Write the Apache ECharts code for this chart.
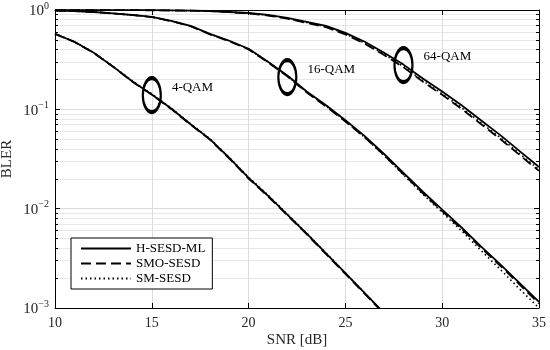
<!DOCTYPE html>
<html><head><meta charset="utf-8">
<script src="https://cdn.jsdelivr.net/npm/echarts@6/dist/echarts.min.js"></script>
<style>html,body{margin:0;padding:0;background:#fff}#c{width:550px;height:350px}</style>
</head><body><div id="c"></div>
<script>
// ---- data ----
const snr4 = [10,11,12,13,14,15,16,17,18,19,20,21,22,23,24,25,26,27];
const snrAll = [10,11,12,13,14,15,16,17,18,19,20,21,22,23,24,25,26,27,28,29,30,31,32,33,34,35];

const qam4_H   = [0.575,0.479,0.372,0.269,0.191,0.141,0.102,0.0708,0.0501,0.0324,0.0204,0.0135,0.00871,0.00562,0.00355,0.00224,0.00141,0.00089];
const qam4_SMO = [0.575,0.477,0.370,0.268,0.190,0.140,0.101,0.0702,0.0497,0.0320,0.0201,0.0133,0.00858,0.00553,0.00349,0.00220,0.00139,0.00087];
const qam4_SM  = [0.578,0.481,0.374,0.271,0.193,0.143,0.103,0.0715,0.0507,0.0328,0.0207,0.0137,0.00880,0.00567,0.00357,0.00225,0.00141,0.00088];

const qam16_H   = [0.989,0.977,0.955,0.923,0.891,0.851,0.776,0.692,0.575,0.490,0.407,0.302,0.219,0.151,0.110,0.0776,0.0537,0.0355,0.0229,0.0148,0.00977,0.00646,0.00417,0.00275,0.00178,0.00115];
const qam16_SMO = [0.989,0.977,0.955,0.922,0.889,0.848,0.772,0.687,0.569,0.484,0.401,0.297,0.215,0.148,0.107,0.0755,0.0522,0.0345,0.0222,0.0143,0.00945,0.00625,0.00404,0.00266,0.00172,0.00111];
const qam16_SM  = [0.989,0.977,0.955,0.923,0.890,0.850,0.775,0.690,0.573,0.488,0.405,0.300,0.217,0.149,0.108,0.0760,0.0522,0.0343,0.0219,0.0140,0.00915,0.00598,0.00380,0.00245,0.00155,0.00100];

const qam64_H   = [0.999,0.999,0.998,0.997,0.996,0.995,0.991,0.986,0.977,0.955,0.933,0.891,0.832,0.759,0.692,0.589,0.479,0.372,0.282,0.204,0.151,0.110,0.0776,0.0550,0.0380,0.0263];
const qam64_SMO = [0.999,0.999,0.998,0.997,0.996,0.994,0.990,0.984,0.974,0.950,0.925,0.880,0.818,0.742,0.672,0.568,0.458,0.352,0.265,0.190,0.140,0.101,0.0712,0.0503,0.0347,0.0240];
const qam64_SM  = [0.999,0.999,0.998,0.997,0.996,0.994,0.990,0.985,0.975,0.952,0.928,0.884,0.823,0.748,0.679,0.575,0.465,0.358,0.270,0.194,0.143,0.104,0.0733,0.0518,0.0357,0.0247];

const methodNames = ['H-SESD-ML','SMO-SESD','SM-SESD'];
const groupLabels = ['4-QAM','16-QAM','64-QAM'];
const groupMarkSnr = [15, 22, 28];
const groupMarkBler = [0.139, 0.211, 0.279];

const yMinor = [];
[0.001,0.01,0.1].forEach(d => { for (let k = 2; k <= 9; k++) yMinor.push(+(d*k).toPrecision(3)); });

// ---- styles ----
const FONT = 'Liberation Serif';
const lineTypes = ['solid', [10,5], [1.5,3]];
const lineWidths = [1.8, 1.8, 1.6];

function mk(name, xs, ys, idx) {
  return {
    type: 'line', name: name, xAxisIndex: 0, yAxisIndex: 0,
    data: xs.map((x, i) => [x, ys[i]]),
    showSymbol: false, symbol: 'none', smooth: false, clip: true,
    lineStyle: { color: '#000', width: lineWidths[idx], type: lineTypes[idx] },
    itemStyle: { color: '#000' },
    z: 5 - idx
  };
}

const series = [
  mk(methodNames[0], snr4, qam4_H, 0),
  mk(methodNames[1], snr4, qam4_SMO, 1),
  mk(methodNames[2], snr4, qam4_SM, 2),
  mk(methodNames[0], snrAll, qam16_H, 0),
  mk(methodNames[1], snrAll, qam16_SMO, 1),
  mk(methodNames[2], snrAll, qam16_SM, 2),
  mk(methodNames[0], snrAll, qam64_H, 0),
  mk(methodNames[1], snrAll, qam64_SMO, 1),
  mk(methodNames[2], snrAll, qam64_SM, 2),
  {
    type: 'scatter', name: 'marks', xAxisIndex: 0, yAxisIndex: 0,
    data: groupMarkSnr.map((x, i) => ({ value: [x, groupMarkBler[i]], label: { formatter: groupLabels[i] } })),
    symbol: 'circle', symbolSize: [18, 34],
    itemStyle: { color: 'rgba(0,0,0,0)', borderColor: '#000', borderWidth: 3, opacity: 1 },
    label: { show: true, position: 'right', distance: 10, offset: [0, -8], color: '#000', fontFamily: FONT, fontSize: 13 },
    emphasis: { disabled: true },
    z: 10, silent: true
  }
];

function expLabel(v) {
  const e = Math.round(Math.log10(v));
  return '{b|10}{s|' + (e < 0 ? '\u2212' + (-e) : String(e)) + '}';
}

const yRich = {
  b: { fontFamily: FONT, fontSize: 15, color: '#262626', lineHeight: 18, verticalAlign: 'bottom' },
  s: { fontFamily: FONT, fontSize: 10, color: '#262626', verticalAlign: 'top', lineHeight: 10 }
};

const option = {
  animation: false,
  backgroundColor: '#fff',
  grid: { left: 55, right: 11, top: 10, bottom: 42, containLabel: false, outerBoundsMode: 'none' },
  legend: {
    data: methodNames, orient: 'vertical', left: 71, top: 238,
    itemWidth: 50, itemHeight: 14, itemGap: 2, padding: [4, 7, 4, 9],
    backgroundColor: '#fff', borderColor: '#000', borderWidth: 1, borderRadius: 0,
    itemStyle: { opacity: 0 },
    textStyle: { fontFamily: FONT, fontSize: 13, color: '#000' },
    selectedMode: false, z: 20
  },
  xAxis: [{
    type: 'value', min: 10, max: 35, interval: 5, position: 'bottom',
    axisLine: { show: true, onZero: false, lineStyle: { color: '#000', width: 1 } },
    axisTick: { show: true, inside: true, length: 5, lineStyle: { color: '#000' } },
    splitLine: { show: true, lineStyle: { color: '#dcdcdc', width: 1 } },
    axisLabel: { margin: 8, fontFamily: FONT, fontSize: 14, color: '#262626' },
    name: 'SNR [dB]', nameLocation: 'middle', nameGap: 25, nameMoveOverlap: false,
    nameTextStyle: { fontFamily: FONT, fontSize: 15, color: '#262626' }
  }, {
    type: 'value', min: 10, max: 35, interval: 5, position: 'top',
    axisLine: { show: true, onZero: false, lineStyle: { color: '#000', width: 1 } },
    axisTick: { show: true, inside: true, length: 5, lineStyle: { color: '#000' } },
    splitLine: { show: false }, axisLabel: { show: false }
  }],
  yAxis: [{
    type: 'log', logBase: 10, min: 0.001, max: 1, position: 'left',
    axisLine: { show: true, onZero: false, lineStyle: { color: '#000', width: 1 } },
    axisTick: { show: true, inside: true, length: 5, lineStyle: { color: '#000' } },
    splitLine: { show: true, lineStyle: { color: '#dcdcdc', width: 1 } },
    axisLabel: { margin: 6, formatter: expLabel, rich: yRich },
    name: 'BLER', nameLocation: 'middle', nameGap: 40, nameMoveOverlap: false,
    nameTextStyle: { fontFamily: FONT, fontSize: 15, color: '#262626' }
  }, {
    type: 'log', logBase: 10, min: 0.001, max: 1, position: 'left',
    axisLine: { show: false },
    axisTick: { show: true, inside: true, length: 3, customValues: yMinor, lineStyle: { color: '#000' } },
    splitLine: { show: true, lineStyle: { color: '#e8e8e8', width: 1 } },
    axisLabel: { show: false }
  }, {
    type: 'log', logBase: 10, min: 0.001, max: 1, position: 'right',
    axisLine: { show: true, onZero: false, lineStyle: { color: '#000', width: 1 } },
    axisTick: { show: true, inside: true, length: 5, lineStyle: { color: '#000' } },
    splitLine: { show: false }, axisLabel: { show: false }
  }, {
    type: 'log', logBase: 10, min: 0.001, max: 1, position: 'right',
    axisLine: { show: false },
    axisTick: { show: true, inside: true, length: 3, customValues: yMinor, lineStyle: { color: '#000' } },
    splitLine: { show: false }, axisLabel: { show: false }
  }],
  series: series
};

const chart = echarts.init(document.getElementById('c'), null, { renderer: 'canvas' });
chart.setOption(option);
</script>
</body></html>
